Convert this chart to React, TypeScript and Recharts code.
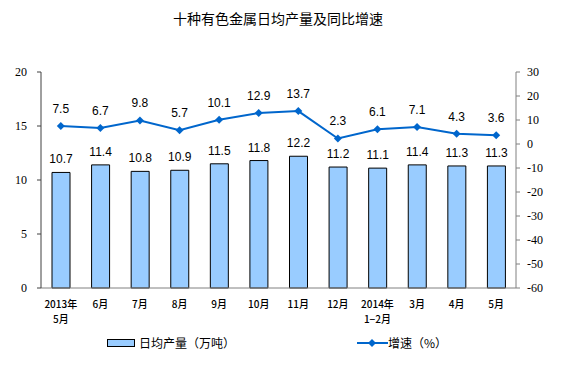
import React from 'react';
import { ComposedChart, Bar, Line, XAxis, YAxis, LabelList } from 'recharts';

const categories = ['2013年\n5月', '6月', '7月', '8月', '9月', '10月', '11月', '12月', '2014年\n1−2月', '3月', '4月', '5月'];
const output = [10.7, 11.4, 10.8, 10.9, 11.5, 11.8, 12.2, 11.2, 11.1, 11.4, 11.3, 11.3];
const growth = [7.5, 6.7, 9.8, 5.7, 10.1, 12.9, 13.7, 2.3, 6.1, 7.1, 4.3, 3.6];
const leftTicks = [0, 5, 10, 15, 20];
const rightTicks = [-60, -50, -40, -30, -20, -10, 0, 10, 20, 30];

const data = categories.map((c, i) => ({ name: c, output: output[i], growth: growth[i] }));

const CJK = '"Noto Sans CJK SC", sans-serif';
const SERIF = '"Liberation Serif", "Times New Roman", serif';

const XTick = (props: any) => {
  const { x, y, payload } = props;
  const lines = String(payload.value).split('\n');
  return (
    <g transform={`translate(${x},${y})`}>
      {lines.map((l, i) => (
        <text key={i} x={0} y={12 + i * 15} textAnchor="middle" fontSize={10} fill="#000" fontFamily={CJK} fontWeight={500}>
          {l}
        </text>
      ))}
    </g>
  );
};

const YTick = (props: any) => {
  const { x, y, payload, textAnchor } = props;
  return (
    <text x={x} y={y} dy={4} textAnchor={textAnchor} fontSize={12} fill="#000" style={{ fontFamily: SERIF }}>
      {payload.value}
    </text>
  );
};

const Diamond = (props: any) => {
  const { cx, cy } = props;
  if (cx == null || cy == null) return null;
  return <path d={`M${cx},${cy - 4}L${cx + 4},${cy}L${cx},${cy + 4}L${cx - 4},${cy}Z`} fill="#0066CC" />;
};

export default function App() {
  return (
    <div style={{ position: 'absolute', left: 0, top: 0, width: 562, height: 378, background: '#fff' }}>
      <div style={{ position: 'absolute', left: 0, top: 8, width: 556, textAlign: 'center', fontFamily: CJK, fontSize: 14, color: '#000' }}>
        十种有色金属日均产量及同比增速
      </div>
      <ComposedChart width={562} height={378} data={data} margin={{ top: 72, right: 0, bottom: 60, left: 0 }}>
        <XAxis dataKey="name" height={30} tick={<XTick />} tickLine={false} stroke="#808080" interval={0} />
        <YAxis yAxisId="l" domain={[0, 20]} ticks={leftTicks} width={41} stroke="#404040" tickSize={4} tickMargin={10}
          tick={<YTick />} />
        <YAxis yAxisId="r" orientation="right" domain={[-60, 30]} ticks={rightTicks} width={46} stroke="#808080" tickSize={4} tickMargin={7}
          tick={<YTick />} />
        <Bar yAxisId="l" dataKey="output" fill="#99CCFF" stroke="#000" strokeWidth={1} barSize={18} isAnimationActive={false}>
          <LabelList dataKey="output" position="top" offset={9} fontSize={12} fill="#000" fontFamily='"Liberation Sans", Arial, sans-serif' formatter={(v: any) => Number(v).toFixed(1)} />
        </Bar>
        <Line yAxisId="r" dataKey="growth" stroke="#0066CC" strokeWidth={2} dot={<Diamond />} activeDot={false} isAnimationActive={false}>
          <LabelList dataKey="growth" position="top" offset={13} fontSize={12} fill="#000" fontFamily='"Liberation Sans", Arial, sans-serif' formatter={(v: any) => Number(v).toFixed(1)} />
        </Line>
      </ComposedChart>
      <div style={{ position: 'absolute', left: 107, top: 334, fontFamily: CJK, fontSize: 12, color: '#000', display: 'flex', alignItems: 'center' }}>
        <span style={{ display: 'inline-block', width: 26, height: 6, background: '#99CCFF', border: '1px solid #000', marginRight: 4 }} />
        日均产量（万吨）
      </div>
      <div style={{ position: 'absolute', left: 357, top: 334, fontFamily: CJK, fontSize: 12, color: '#000', display: 'flex', alignItems: 'center' }}>
        <svg width={31} height={10}>
          <line x1={0} y1={5} x2={31} y2={5} stroke="#0066CC" strokeWidth={2} />
          <path d="M15,1L19,5L15,9L11,5Z" fill="#0066CC" />
        </svg>
        增速（%）
      </div>
    </div>
  );
}
